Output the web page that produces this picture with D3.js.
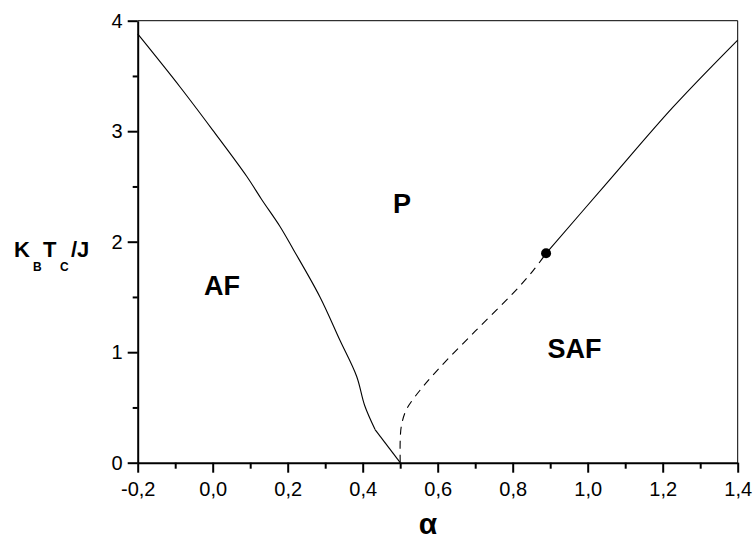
<!DOCTYPE html>
<html>
<head>
<meta charset="utf-8">
<script src="https://cdn.jsdelivr.net/npm/d3@7"></script>
<style>
  body { margin: 0; background: #fff; }
  text { font-family: "Liberation Sans", Arial, sans-serif; }
</style>
</head>
<body>
<script>
// phase boundary data
const afLine = [
  [-0.2, 3.88], [-0.087, 3.40], [0.0, 3.01], [0.091, 2.59], [0.131, 2.38],
  [0.179, 2.14], [0.215, 1.93], [0.286, 1.50], [0.339, 1.11], [0.384, 0.78],
  [0.405, 0.52], [0.433, 0.30]
];
const afTail = [[0.433, 0.30], [0.5, 0.0]];
const safDashed = [
  [0.5, 0.0], [0.5, 0.2], [0.503, 0.33], [0.515, 0.47], [0.54, 0.6],
  [0.60, 0.84], [0.70, 1.19], [0.80, 1.53], [0.855, 1.74], [0.889, 1.895]
];
const safSolid = [[0.889, 1.895], [1.051, 2.53], [1.228, 3.22], [1.4, 3.825]];
const tricritical = [[0.889, 1.895]];

const xTicks = [-0.2, 0.0, 0.2, 0.4, 0.6, 0.8, 1.0, 1.2, 1.4];
const yTicks = [0, 1, 2, 3, 4];
const phaseLabels = [
  {text: "AF", x: 0.025, y: 1.52},
  {text: "P", x: 0.505, y: 2.26},
  {text: "SAF", x: 0.965, y: 0.95}
];

const W = 756, H = 541;
const margin = {top: 20.7, right: 18.3, bottom: 78.3, left: 137.7};
const width = W - margin.left - margin.right,
      height = H - margin.top - margin.bottom;

const svg = d3.select("body").append("svg")
  .attr("width", W).attr("height", H);
const g = svg.append("g")
  .attr("transform", "translate(" + margin.left + "," + margin.top + ")");

const x = d3.scaleLinear().domain([-0.2, 1.4]).range([0, width]);
const y = d3.scaleLinear().domain([0, 4]).range([height, 0]);
const fmt = d => d3.format(".1f")(d).replace(".", ",").replace("−", "-");

// top and right frame
g.append("line").attr("x1", 0).attr("x2", width).attr("y1", 0).attr("y2", 0)
  .attr("stroke", "#000").attr("stroke-width", 1);
g.append("line").attr("x1", width).attr("x2", width).attr("y1", 0).attr("y2", height)
  .attr("stroke", "#000").attr("stroke-width", 1);

// minor ticks
const xMinor = d3.range(-0.1, 1.4, 0.2);
const yMinor = d3.range(0.5, 4, 1);
g.append("g").attr("transform", "translate(0," + height + ")")
  .call(d3.axisBottom(x).tickValues(xMinor).tickSize(6).tickFormat(""))
  .call(a => a.select(".domain").remove())
  .selectAll("line").attr("stroke-width", 2);
g.append("g")
  .call(d3.axisLeft(y).tickValues(yMinor).tickSize(5).tickFormat(""))
  .call(a => a.select(".domain").remove())
  .selectAll("line").attr("stroke-width", 2);

// major axes
const xAxis = g.append("g").attr("transform", "translate(0," + height + ")")
  .call(d3.axisBottom(x).tickValues(xTicks).tickSize(10).tickSizeOuter(0).tickPadding(9).tickFormat(fmt));
const yAxis = g.append("g")
  .call(d3.axisLeft(y).tickValues(yTicks).tickSize(10).tickSizeOuter(0).tickPadding(5).tickFormat(d3.format("d")));
[xAxis, yAxis].forEach(a => {
  a.select(".domain").attr("stroke-width", 2);
  a.selectAll("line").attr("stroke-width", 2);
  a.selectAll("text").attr("font-size", 20).attr("fill", "#000")
    .style("font-family", "'Liberation Sans', Arial, sans-serif");
});

// curves
const line = d3.line().x(d => x(d[0])).y(d => y(d[1])).curve(d3.curveCatmullRom.alpha(0.5));
const straight = d3.line().x(d => x(d[0])).y(d => y(d[1]));
g.append("path").attr("d", line(afLine)).attr("fill", "none").attr("stroke", "#000").attr("stroke-width", 1.1);
g.append("path").attr("d", straight(afTail)).attr("fill", "none").attr("stroke", "#000").attr("stroke-width", 1.1);
g.append("path").attr("d", line(safDashed)).attr("fill", "none").attr("stroke", "#000")
  .attr("stroke-width", 1.1).attr("stroke-dasharray", "8,6");
g.append("path").attr("d", line(safSolid)).attr("fill", "none").attr("stroke", "#000").attr("stroke-width", 1.1);
g.selectAll("circle").data(tricritical).join("circle")
  .attr("cx", d => x(d[0])).attr("cy", d => y(d[1])).attr("r", 5).attr("fill", "#000");

// phase labels
g.selectAll(".phase").data(phaseLabels).join("text")
  .attr("class", "phase")
  .attr("x", d => x(d.x)).attr("y", d => y(d.y))
  .attr("text-anchor", "middle").attr("font-size", 27).attr("font-weight", "bold")
  .text(d => d.text);

// axis titles
svg.append("text").attr("x", 428).attr("y", 534).attr("text-anchor", "middle")
  .attr("font-size", 30).attr("font-weight", "bold").text("α");

const yl = svg.append("text").attr("y", 257)
  .attr("font-size", 22).attr("font-weight", "bold");
yl.append("tspan").attr("x", 14).text("K");
yl.append("tspan").attr("x", 33).attr("font-size", 12).attr("dy", 14).text("B");
yl.append("tspan").attr("x", 43).attr("dy", -14).text("T");
yl.append("tspan").attr("x", 60).attr("font-size", 12).attr("dy", 14).text("C");
yl.append("tspan").attr("x", 71).attr("dy", -14).text("/J");
</script>
</body>
</html>
